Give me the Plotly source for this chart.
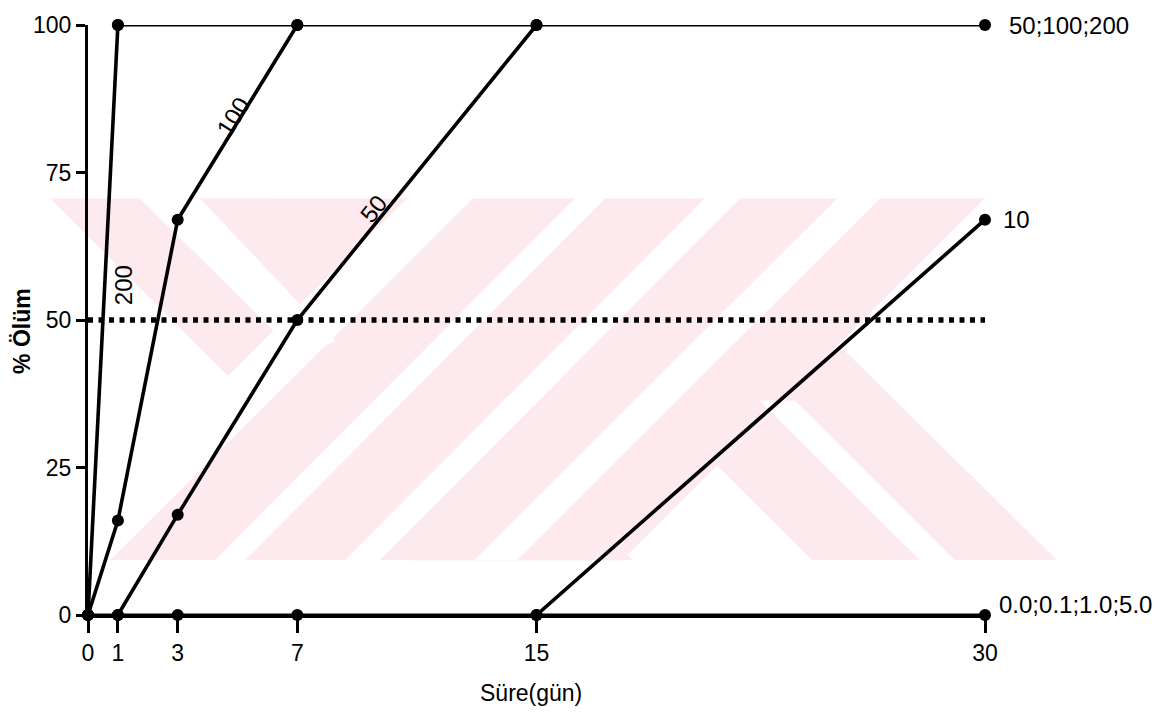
import plotly.graph_objects as go

# ---------------- data ----------------
days_ticks = [0, 1, 3, 7, 15, 30]
pct_ticks = [0, 25, 50, 75, 100]

low_x = [0, 1, 3, 7, 15, 30]          # 0.0;0.1;1.0;5.0
low_y = [0, 0, 0, 0, 0, 0]

high_x = [1, 7, 15, 30]               # 50;100;200 plateau
high_y = [100, 100, 100, 100]

c10_x = [15, 30]
c10_y = [0, 67]

c50_x = [1, 3, 7, 15]
c50_y = [0, 17, 50, 100]

c100_x = [0, 1, 3, 7]
c100_y = [0, 16, 67, 100]

c200_x = [0, 1]
c200_y = [0, 100]

ref_x = [0, 30]
ref_y = [50, 50]

# ---------------- layout geometry ----------------
W, H = 1175, 713
L_M, R_M, T_M, B_M = 88, 190, 23, 98
PW = W - L_M - R_M
PH = H - T_M - B_M


def pp(px, py):
    return (px - L_M) / PW, (H - B_M - py) / PH


def poly(points, color):
    d = ""
    for i, (px, py) in enumerate(points):
        x, y = pp(px, py)
        d += ("M" if i == 0 else "L") + f"{x:.5f},{y:.5f} "
    d += "Z"
    return dict(type="path", path=d, xref="paper", yref="paper",
                fillcolor=color, line=dict(width=0), layer="below")


# pale background watermark of the scanned page
PINK = "#fdeaee"
WHITE = "#ffffff"
shapes = [
    poly([(50, 197), (270, 197), (633, 560), (413, 560)], PINK),
    poly([(180, 197), (430, 197), (300, 350)], PINK),
    poly([(460, 197), (985, 197), (622, 560), (97, 560)], PINK),
    poly([(717, 465), (840, 345), (1057, 560), (812, 560)], PINK),
    poly([(140, 197), (200, 197), (335, 340), (300, 356)], WHITE),
    poly([(407, 197), (473, 197), (110, 560), (42, 560)], WHITE),
    poly([(575, 197), (605, 197), (245, 560), (215, 560)], WHITE),
    poly([(705, 197), (740, 197), (380, 560), (345, 560)], WHITE),
    poly([(837, 197), (880, 197), (517, 560), (474, 560)], WHITE),
    poly([(760, 400), (795, 400), (955, 560), (920, 560)], WHITE),
]

FONT = "Liberation Sans"
LW = 3.6
MS = 12

fig = go.Figure()


def add_series(x, y, width=LW, markers=True):
    fig.add_trace(go.Scatter(
        x=x, y=y, mode="lines+markers" if markers else "lines",
        line=dict(color="black", width=width),
        marker=dict(color="black", size=MS),
        cliponaxis=False, showlegend=False, hoverinfo="skip"))


add_series(ref_x, ref_y, markers=False)
fig.data[-1].line.dash = "5px,5.5px"
fig.data[-1].line.width = 5.5
add_series(low_x, low_y, width=3)
add_series(high_x, high_y, width=3)
add_series(c10_x, c10_y)
add_series(c50_x, c50_y)
add_series(c100_x, c100_y)
add_series(c200_x, c200_y)

tf = dict(family=FONT, size=23, color="black")
lf = dict(family=FONT, size=24, color="black")
annotations = [
    dict(x=30, y=100, xref="x", yref="y", text="50;100;200", showarrow=False,
         xanchor="left", yanchor="middle", xshift=22, font=lf),
    dict(x=30, y=67, xref="x", yref="y", text="10", showarrow=False,
         xanchor="left", yanchor="middle", xshift=16, font=lf),
    dict(x=30, y=0, xref="x", yref="y", text="0.0;0.1;1.0;5.0", showarrow=False,
         xanchor="left", yanchor="middle", xshift=12, yshift=11, font=lf),
    dict(x=1.17, y=55.9, xref="x", yref="y", text="200", showarrow=False,
         textangle=-90, font=lf),
    dict(x=4.85, y=84.5, xref="x", yref="y", text="100", showarrow=False,
         textangle=-58, font=lf),
    dict(x=9.55, y=68.9, xref="x", yref="y", text="50", showarrow=False,
         textangle=-52, font=lf),
]
x_t, y_t = pp(22, 330)
annotations.append(dict(x=x_t, y=y_t, xref="paper", yref="paper",
                        xanchor="center", yanchor="middle",
                        text="<b>% Ölüm</b>", showarrow=False, textangle=-90,
                        font=dict(family=FONT, size=23, color="black")))
x_t, y_t = pp(531, 693)
annotations.append(dict(x=x_t, y=y_t, xref="paper", yref="paper",
                        xanchor="center", yanchor="middle",
                        text="Süre(gün)", showarrow=False,
                        font=dict(family=FONT, size=23, color="black")))

fig.update_layout(
    width=W, height=H, autosize=False,
    margin=dict(l=L_M, r=R_M, t=T_M, b=B_M, pad=0),
    paper_bgcolor="white", plot_bgcolor="white",
    shapes=shapes, annotations=annotations,
    xaxis=dict(range=[0, 30], tickvals=days_ticks,
               ticktext=[str(v) for v in days_ticks],
               showline=True, linecolor="black", linewidth=3,
               ticks="outside", ticklen=15, tickwidth=3, tickcolor="black",
               showgrid=False, zeroline=False, tickfont=tf, fixedrange=True),
    yaxis=dict(range=[0, 100], tickvals=pct_ticks,
               ticktext=[str(v) for v in pct_ticks],
               showline=True, linecolor="black", linewidth=3,
               ticks="outside", ticklen=9, tickwidth=3, tickcolor="black",
               showgrid=False, zeroline=False, tickfont=tf, fixedrange=True),
)

fig.write_html("out.html")
